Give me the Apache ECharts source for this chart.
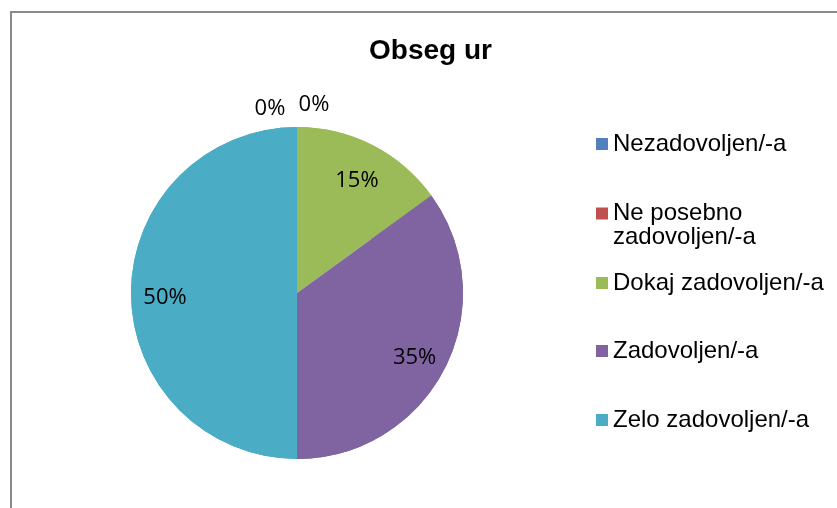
<!DOCTYPE html>
<html>
<head>
<meta charset="utf-8">
<script src="https://cdn.jsdelivr.net/npm/echarts@6/dist/echarts.min.js"></script>
<style>
html,body{margin:0;padding:0;background:#fff;}
#chart{width:837px;height:508px;}
</style>
</head>
<body>
<div id="chart"></div>
<script>
const titleText = 'Obseg ur';
const categories = ['Nezadovoljen/-a', 'Ne posebno zadovoljen/-a', 'Dokaj zadovoljen/-a', 'Zadovoljen/-a', 'Zelo zadovoljen/-a'];
const legendLabels = ['Nezadovoljen/-a', 'Ne posebno\nzadovoljen/-a', 'Dokaj zadovoljen/-a', 'Zadovoljen/-a', 'Zelo zadovoljen/-a'];
const values = [0, 0, 15, 35, 50];
const colors = ['#4F81BD', '#C0504D', '#9BBB59', '#8064A2', '#4BACC6'];

const pieCenter = [297, 293];
const pieR = 166;
const legendTops = [132, 201, 271, 339, 408];
const zeroLabelOffsets = {0: [-27, -184], 1: [17, -188]};

const chart = echarts.init(document.getElementById('chart'));
const data = categories.map((c, i) => ({name: c, value: values[i]}));

const legends = categories.map((c, i) => {
  const twoLine = legendLabels[i].indexOf('\n') >= 0;
  return {
    data: [c],
    orient: 'vertical',
    left: 596,
    top: legendTops[i],
    padding: 0,
    icon: twoLine ? 'path://M0,0H12V12H0Z M0,35' : 'rect',
    itemWidth: 12,
    itemHeight: twoLine ? 35 : 12,
    selectedMode: false,
    formatter: () => legendLabels[i],
    textStyle: {
      fontFamily: 'Liberation Sans, Arial, sans-serif',
      fontSize: 24,
      color: '#000',
      lineHeight: 24
    }
  };
});

chart.setOption({
  animation: false,
  color: colors,
  title: {
    text: titleText,
    left: 369,
    top: 37,
    padding: 0,
    textStyle: {fontFamily: 'Liberation Sans, Arial, sans-serif', fontSize: 28, fontWeight: 'bold', color: '#000'}
  },
  graphic: [{
    type: 'rect',
    shape: {x: 11, y: 12, width: 1000, height: 700},
    style: {fill: null, stroke: '#898989', lineWidth: 2},
    silent: true
  }],
  legend: legends,
  series: [
    {
      type: 'pie',
      center: pieCenter,
      radius: pieR,
      startAngle: 90,
      clockwise: true,
      silent: true,
      label: {show: false},
      labelLine: {show: false},
      itemStyle: {borderWidth: 0},
      data: data
    },
    {
      type: 'pie',
      center: pieCenter,
      radius: [92, pieR],
      startAngle: 90,
      clockwise: true,
      silent: true,
      avoidLabelOverlap: false,
      itemStyle: {borderWidth: 0},
      label: {
        show: true,
        position: 'inside',
        formatter: '{c}%',
        fontFamily: 'Open Sans, sans-serif',
        fontSize: 22,
        color: '#000'
      },
      labelLine: {show: false},
      labelLayout: function (p) {
        const off = zeroLabelOffsets[p.dataIndex];
        if (off && values[p.dataIndex] === 0) {
          return {x: pieCenter[0] + off[0], y: pieCenter[1] + off[1], align: 'center', verticalAlign: 'middle'};
        }
        return {dy: 5};
      },
      data: data
    }
  ]
});
</script>
</body>
</html>
